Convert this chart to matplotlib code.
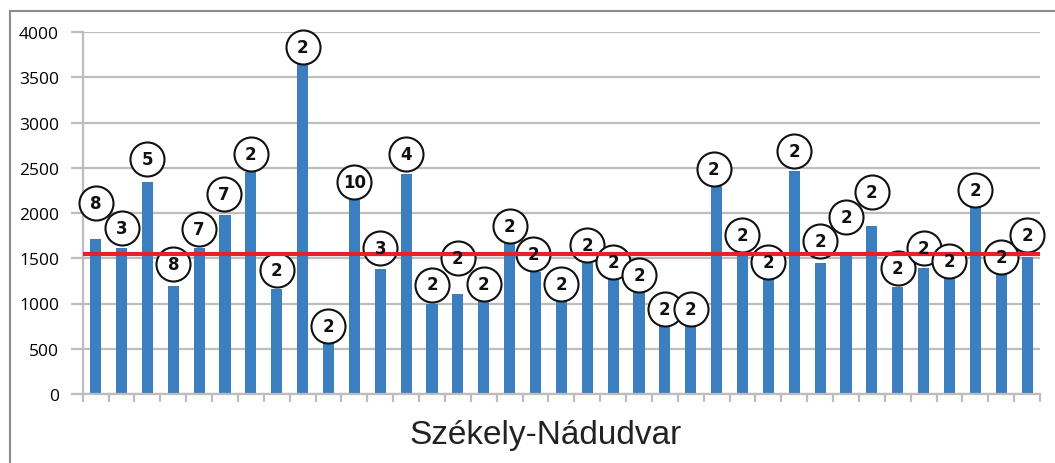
import numpy as np
import matplotlib
matplotlib.use('Agg')
import matplotlib.pyplot as plt
from matplotlib.transforms import offset_copy

# bar heights (37 samples)
values = [1710, 1610, 2345, 1195, 1610, 1980, 2450, 1160, 3645, 565,
          2145, 1380, 2430, 1000, 1100, 1030, 1665, 1350, 1030, 1450,
          1315, 1160, 750, 765, 2295, 1560, 1280, 2460, 1445, 1530,
          1860, 1180, 1395, 1290, 2080, 1335, 1510]

# numbers written in the circles above the bars
counts = ['8', '3', '5', '8', '7', '7', '2', '2', '2', '2',
          '10', '3', '4', '2', '2', '2', '2', '2', '2', '2',
          '2', '2', '2', '2', '2', '2', '2', '2', '2', '2',
          '2', '2', '2', '2', '2', '2', '2']

mean_value = 1547
y_ticks = [0, 500, 1000, 1500, 2000, 2500, 3000, 3500, 4000]
title = 'Székely-Nádudvar'

# circle offsets from the bar top, in pixels (hand placed in the original)
label_dx = [0, 0, 0, 0, 0, -1, 0, 0, 0, 0,
            0, 0, 0, 0, 0, 0, 0, -2, 0, 0,
            0, 0, 0, 0, -3, 0, 0, 0, 0, 0,
            0, 0, 0, 0, 0, 0, 0]
label_dy = [36, 20, 23, 22, 19, 21, 18, 19, 17, 17,
            18, 21, 20, 19, 36, 17, 17, 18, 17, 18,
            13, 14, 17, 16, 17, 18, 16, 20, 22, 39,
            34, 19, 20, 16, 16, 16, 22]

W, H = 1055, 464
fig = plt.figure(figsize=(W / 100, H / 100), dpi=100)
ax = fig.add_axes([82.7 / W, 1 - 395 / H, (1040 - 82.7) / W, (395 - 33) / H])

x = np.arange(len(values))
grid_col = '#bdbdbd'

ax.bar(x, values, width=0.43, color='#3b7fc1', zorder=2)
ax.set_xlim(-0.5, len(values) - 0.5)
ax.set_ylim(0, 4000)

ax.set_yticks(y_ticks)
ax.set_yticklabels([str(t) for t in y_ticks], fontsize=12.5, family='Open Sans')
ax.yaxis.grid(True, color=grid_col, lw=1.6, zorder=0)
ax.set_axisbelow(True)
ax.tick_params(axis='y', length=9, width=1.6, color=grid_col, pad=8)

ax.set_xticks(np.arange(-0.5, len(values), 1.0))
ax.set_xticklabels([])
ax.tick_params(axis='x', length=6, width=1.6, color=grid_col, direction='out')

for s in ['top', 'right']:
    ax.spines[s].set_visible(False)
for s in ['left', 'bottom']:
    ax.spines[s].set_color(grid_col)
    ax.spines[s].set_linewidth(1.6)

# average line
ax.plot([-0.5, len(values) - 0.5], [mean_value, mean_value], color='#e8202a',
        lw=3, zorder=4, solid_capstyle='butt')

# circled counts
for i, (v, c) in enumerate(zip(values, counts)):
    tr = offset_copy(ax.transData, fig=fig, x=label_dx[i], y=label_dy[i], units='dots')
    ax.plot(i, v, marker='o', ms=24.5, mfc='white', mec='#111111', mew=1.5,
            transform=tr, zorder=3, clip_on=False)
    ax.text(i, v, c, transform=tr, ha='center', va='center', fontsize=12,
            fontweight='bold', family='DejaVu Sans', color='#111111', zorder=5)

fig.text(546 / W, 1 - 436 / H, title, ha='center', va='center', fontsize=24,
         family='Liberation Sans', color='#222222')

# outer frame (left and top only)
frame_col = '#8c8c8c'
fig.add_artist(plt.Line2D([10 / W, 10 / W], [0, 1 - 11.5 / H], color=frame_col, lw=1.5))
fig.add_artist(plt.Line2D([10 / W, 1], [1 - 11.5 / H, 1 - 11.5 / H], color=frame_col, lw=1.5))

fig.savefig('out.png', dpi=100)
